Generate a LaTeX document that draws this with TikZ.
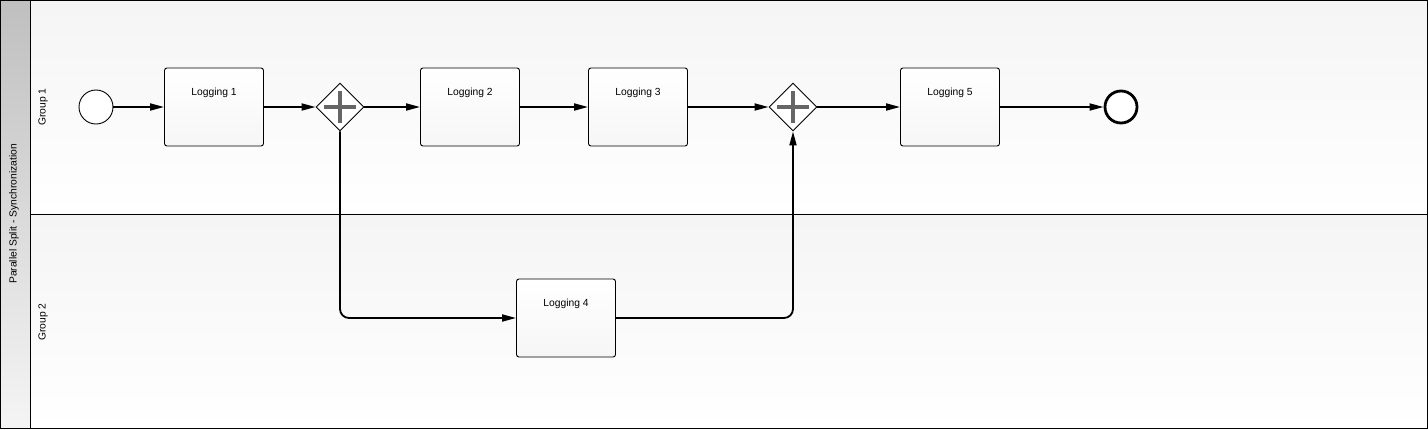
\documentclass[tikz,border=0pt]{standalone}
\usepackage{fontspec}
\setmainfont{Liberation Sans}
\usetikzlibrary{shapes.geometric, arrows.meta, positioning}

\begin{document}
\begin{tikzpicture}[
    x=1pt, y=-1pt,
    font=\fontsize{10.3}{12}\selectfont,
    task/.style={rectangle, draw, rounded corners=2.5pt, line width=0.9pt,
    top color=white, bottom color=gray!7, minimum width=99pt,
    inner sep=0pt, text height=27pt, text depth=51pt},
    gateway/.style={diamond, draw, line width=0.9pt, aspect=1, inner sep=0pt,
    minimum width=48pt, minimum height=48pt, fill=white,
    path picture={\draw[line width=3.6pt, black!60]
      ([xshift=-16pt]path picture bounding box.center) -- ++(32pt,0)
      ([yshift=-16pt]path picture bounding box.center) -- ++(0,32pt);}},
    startev/.style={circle, draw, line width=0.9pt, minimum size=34pt,
    inner sep=0pt, fill=white},
    endev/.style={circle, draw, line width=2.8pt, minimum size=32pt,
    inner sep=0pt, fill=white},
    arrow/.style={-{Triangle[length=14pt, width=7pt]}, line width=1.8pt},
    lanelabel/.style={rotate=90, anchor=center}
]
\useasboundingbox (0,0) rectangle (1428,429);

% ---------------- POOL AND LANES ----------------
\shade[top color=black!25, bottom color=black!4] (0.5,0.5) rectangle (30,428.5);
\shade[top color=black!4, bottom color=white] (30,0.5) rectangle (1427.5,214);
\shade[top color=black!4, bottom color=white] (30,214) rectangle (1427.5,428.5);
\draw[line width=0.9pt] (0.5,0.5) rectangle (1427.5,428.5);
\draw[line width=0.9pt] (30,0.5) -- (30,428.5);
\draw[line width=0.9pt] (30,214) -- (1427.5,214);

\node[lanelabel] (pool) at (14,214) {Parallel Split - Synchronization};
\node[lanelabel] (lane1) at (43,107) {Group 1};
\node[lanelabel] (lane2) at (43,322) {Group 2};

% ---------------- GROUP 1 ----------------
\node[startev] (start) at (96,107) {};
\node[task] (log1) at (214,107) {Logging 1};
\node[gateway] (split) at (340,107) {};
\node[task] (log2) at (470,107) {Logging 2};
\node[task] (log3) at (638,107) {Logging 3};
\node[gateway] (sync) at (793,107) {};
\node[task] (log5) at (950,107) {Logging 5};
\node[endev] (end) at (1121,107) {};

\draw[arrow] (start)--(log1);
\draw[arrow] (log1)--(split);
\draw[arrow] (split)--(log2);
\draw[arrow] (log2)--(log3);
\draw[arrow] (log3)--(sync);
\draw[arrow] (sync)--(log5);
\draw[arrow] (log5)--(end);

% ---------------- GROUP 2 ----------------
\node[task] (log4) at (566,318) {Logging 4};

\draw[arrow, rounded corners=9pt] (split.south) |- (log4.west);
\draw[arrow, rounded corners=9pt] (log4.east) -| (sync.south);

\end{tikzpicture}
\end{document}
